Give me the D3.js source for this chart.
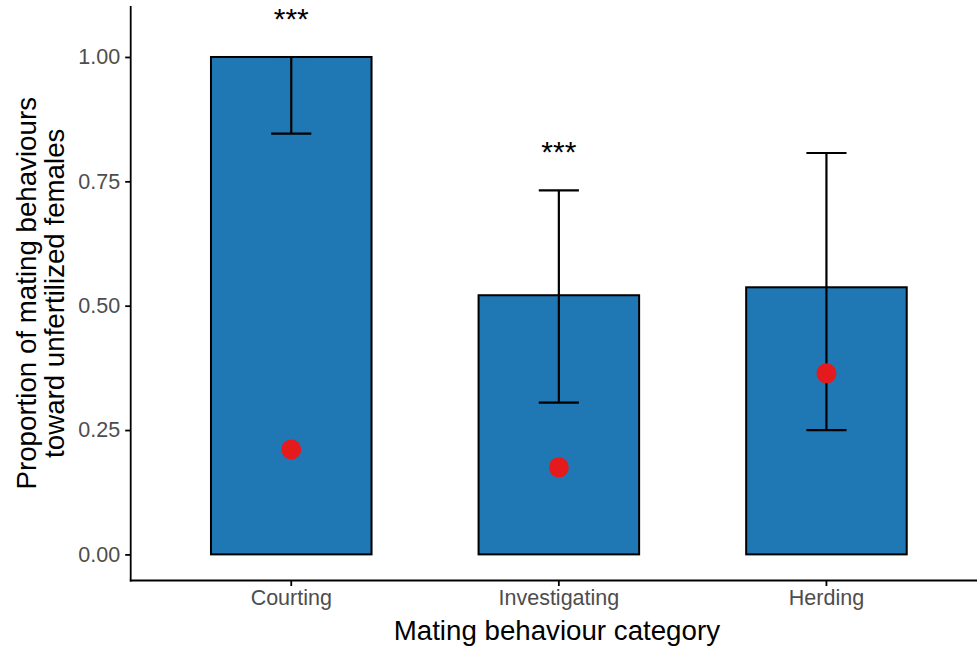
<!DOCTYPE html>
<html>
<head>
<meta charset="utf-8">
<script src="https://cdn.jsdelivr.net/npm/d3@7"></script>
<style>
  html, body { margin: 0; padding: 0; background: #fff; }
  svg { display: block; font-family: "Liberation Sans", Arial, sans-serif; }
</style>
</head>
<body>
<svg id="chart" width="977" height="651"></svg>
<script>
// Mating behaviour categories and their proportions toward unfertilized females
const categories = ["Courting", "Investigating", "Herding"];
const proportions = [1.00, 0.521, 0.537];
const ciLower = [0.846, 0.305, 0.250];
const ciUpper = [1.00, 0.732, 0.807];
// Expected (null) proportion for each category
const expected = [0.211, 0.175, 0.364];
// Significance markers and the height they are placed at
const sigLabels = ["***", "***", ""];
const sigY = [1.05, 0.782, null];
const yTicks = [0, 0.25, 0.5, 0.75, 1.0];

const svg = d3.select("#chart");
const W = 977, H = 651;
const panelLeft = 130.7, panelTop = 6, panelRight = 987, panelBottom = 580.5;

const x = d3.scaleBand()
  .domain(categories)
  .range([panelLeft, panelRight])
  .paddingInner(0.4)
  .paddingOuter(0.3);

const y = d3.scaleLinear()
  .domain([-0.0525, 1.1025])
  .range([panelBottom, panelTop]);

const rows = categories.map((c, i) => ({
  cat: c, p: proportions[i], lo: ciLower[i], hi: ciUpper[i],
  exp: expected[i], sig: sigLabels[i], sigY: sigY[i]
}));

// bars
svg.append("g").selectAll("rect")
  .data(rows).join("rect")
  .attr("x", d => x(d.cat))
  .attr("width", x.bandwidth())
  .attr("y", d => y(d.p))
  .attr("height", d => y(0) - y(d.p))
  .attr("fill", "#1f77b4")
  .attr("stroke", "#000")
  .attr("stroke-width", 2);

// error bars
const capW = x.bandwidth() * 0.25;
const eb = svg.append("g").attr("stroke", "#000").attr("stroke-width", 2.2).attr("fill", "none");
rows.forEach(d => {
  const cx = x(d.cat) + x.bandwidth() / 2;
  eb.append("line").attr("x1", cx).attr("x2", cx).attr("y1", y(d.lo)).attr("y2", y(d.hi));
  eb.append("line").attr("x1", cx - capW / 2).attr("x2", cx + capW / 2).attr("y1", y(d.lo)).attr("y2", y(d.lo));
  eb.append("line").attr("x1", cx - capW / 2).attr("x2", cx + capW / 2).attr("y1", y(d.hi)).attr("y2", y(d.hi));
});

// expected proportion points
svg.append("g").selectAll("circle")
  .data(rows).join("circle")
  .attr("cx", d => x(d.cat) + x.bandwidth() / 2)
  .attr("cy", d => y(d.exp))
  .attr("r", 10)
  .attr("fill", "#e41a1c");

// significance stars
svg.append("g").selectAll("text")
  .data(rows.filter(d => d.sig)).join("text")
  .attr("x", d => x(d.cat) + x.bandwidth() / 2)
  .attr("y", d => y(d.sigY))
  .attr("dy", -3)
  .attr("text-anchor", "middle")
  .attr("font-size", 30)
  .attr("fill", "#000")
  .text(d => d.sig);

// y axis
const yAxis = svg.append("g")
  .attr("transform", `translate(${panelLeft},0)`)
  .call(d3.axisLeft(y).tickValues(yTicks).tickFormat(d3.format(".2f")).tickSize(5.5).tickPadding(5));
yAxis.select(".domain").remove();
yAxis.selectAll(".tick line").attr("stroke", "#000").attr("stroke-width", 1.8);
yAxis.selectAll(".tick text").attr("fill", "#4d4d4d").attr("font-size", 21.5)
  .attr("font-family", "Liberation Sans, Arial, sans-serif");

// x axis
const xAxis = svg.append("g")
  .attr("transform", `translate(0,${panelBottom})`)
  .call(d3.axisBottom(x).tickSize(5.5).tickPadding(4));
xAxis.select(".domain").remove();
xAxis.selectAll(".tick line").attr("stroke", "#000").attr("stroke-width", 1.8);
xAxis.selectAll(".tick text").attr("fill", "#4d4d4d").attr("font-size", 21.5)
  .attr("font-family", "Liberation Sans, Arial, sans-serif");

// axis lines
svg.append("line").attr("x1", panelLeft).attr("x2", panelLeft).attr("y1", panelTop).attr("y2", panelBottom + 0.9)
  .attr("stroke", "#000").attr("stroke-width", 1.8);
svg.append("line").attr("x1", panelLeft - 0.9).attr("x2", W).attr("y1", panelBottom).attr("y2", panelBottom)
  .attr("stroke", "#000").attr("stroke-width", 1.8);

// axis titles
svg.append("text")
  .attr("x", (panelLeft + panelRight) / 2 - 2)
  .attr("y", 640)
  .attr("text-anchor", "middle")
  .attr("font-size", 27.7)
  .attr("fill", "#000")
  .text("Mating behaviour category");

const yMid = (panelTop + panelBottom) / 2;
const yt = svg.append("text")
  .attr("transform", `translate(0,${yMid}) rotate(-90)`)
  .attr("text-anchor", "middle")
  .attr("font-size", 27.7)
  .attr("fill", "#000");
yt.append("tspan").attr("x", 0).attr("y", 36).text("Proportion of mating behaviours");
yt.append("tspan").attr("x", 0).attr("y", 64).text("toward unfertilized females");
</script>
</body>
</html>
